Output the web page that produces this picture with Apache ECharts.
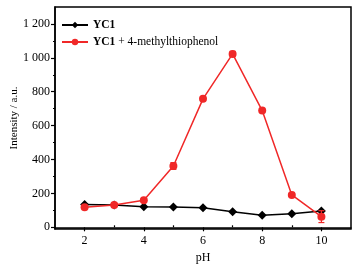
<!DOCTYPE html>
<html>
<head>
<meta charset="utf-8">
<title>Intensity vs pH</title>
<script src="https://cdn.jsdelivr.net/npm/echarts@6/dist/echarts.min.js"></script>
<style>
  html, body { margin: 0; padding: 0; background: #fff; }
  #chart { width: 362px; height: 267px; }
</style>
</head>
<body>
<div id="chart"></div>
<script>
// data
var phValues = [2, 3, 4, 5, 6, 7, 8, 9, 10];
var yc1 = [134, 132, 122, 120, 116, 92, 71, 80, 96];
var yc1Thio = [118, 132, 160, 362, 758, 1023, 689, 191, 63];
var yc1ThioErr = [6, 8, 8, 20, 10, 15, 8, 8, 35];
var xTicks = [2, 4, 6, 8, 10];
var xMinor = [3, 5, 7, 9];
var yTicks = [0, 200, 400, 600, 800, 1000, 1200];
var yMinor = [100, 300, 500, 700, 900, 1100];
var seriesNames = ['YC1', 'YC1 + 4-methylthiophenol'];

var font = 'Liberation Serif, Times New Roman, serif';

function pairs(ys) {
    return phValues.map(function (x, i) { return [x, ys[i]]; });
}
function fmt(v) {
    // "1 200" style thousands
    return v >= 1000 ? String(v).replace(/(\d)(\d{3})$/, '$1 $2') : String(v);
}

var errData = phValues.map(function (x, i) {
    return [x, yc1Thio[i] - yc1ThioErr[i], yc1Thio[i] + yc1ThioErr[i]];
});

var chart = echarts.init(document.getElementById('chart'));

var baseAxis = function (extra) {
    return Object.assign({
        type: 'value',
        splitLine: { show: false },
        axisLine: { show: true, lineStyle: { color: '#000', width: 1.5 } },
        axisTick: { inside: false, length: 4, lineStyle: { color: '#000', width: 1.2 } },
        axisLabel: { color: '#000', fontFamily: font, fontSize: 12, margin: 3 }
    }, extra);
};

var option = {
    animation: false,
    grid: {
        left: 55, right: 11, top: 7, bottom: 38,
        outerBoundsMode: 'none',
        show: true, borderColor: '#000', borderWidth: 1.5, backgroundColor: 'transparent'
    },
    legend: {
        data: seriesNames,
        orient: 'vertical',
        left: 56, top: 14,
        itemWidth: 26, itemHeight: 8, itemGap: 5,
        textStyle: {
            color: '#000', fontFamily: font, fontSize: 11.5,
            rich: { b: { fontWeight: 'bold', fontFamily: font, fontSize: 11.5, color: '#000' } }
        },
        formatter: function (name) {
            return name.replace('YC1', '{b|YC1}');
        }
    },
    xAxis: [
        baseAxis({
            min: 1, max: 11,
            name: 'pH', nameLocation: 'middle', nameGap: 23,
            nameTextStyle: { color: '#000', fontFamily: font, fontSize: 12 },
            axisTick: { inside: false, length: 4, customValues: xTicks, lineStyle: { color: '#000', width: 1.2 } },
            axisLabel: { color: '#000', fontFamily: font, fontSize: 12, margin: 6, customValues: xTicks }
        }),
        baseAxis({
            min: 1, max: 11,
            axisLine: { show: false },
            axisTick: { inside: false, length: 2, customValues: xMinor, lineStyle: { color: '#000', width: 1.2 } },
            axisLabel: { show: false }
        })
    ],
    yAxis: [
        baseAxis({
            min: -10, max: 1300,
            name: 'Intensity / a.u.', nameLocation: 'middle', nameGap: 35, nameMoveOverlap: false,
            nameTextStyle: { color: '#000', fontFamily: font, fontSize: 11 },
            axisTick: { inside: false, length: 4, customValues: yTicks, lineStyle: { color: '#000', width: 1.2 } },
            axisLabel: { color: '#000', fontFamily: font, fontSize: 12, margin: 5, customValues: yTicks, formatter: fmt }
        }),
        baseAxis({
            min: -10, max: 1300,
            position: 'left',
            axisLine: { show: false },
            axisTick: { inside: false, length: 2, customValues: yMinor, lineStyle: { color: '#000', width: 1.2 } },
            axisLabel: { show: false }
        })
    ],
    series: [
        {
            name: seriesNames[0],
            type: 'line',
            data: pairs(yc1),
            symbol: 'diamond', symbolSize: 9,
            itemStyle: { color: '#000' },
            lineStyle: { color: '#000', width: 1.5 },
            z: 3
        },
        {
            name: seriesNames[1],
            type: 'line',
            data: pairs(yc1Thio),
            symbol: 'circle', symbolSize: 8,
            itemStyle: { color: '#f02828' },
            lineStyle: { color: '#f02828', width: 1.5 },
            z: 4
        },
        {
            type: 'custom',
            data: errData,
            z: 5,
            renderItem: function (params, api) {
                var x = api.value(0);
                var lo = api.coord([x, api.value(1)]);
                var hi = api.coord([x, api.value(2)]);
                var w = 3;
                var st = { stroke: '#f02828', lineWidth: 1.2 };
                return {
                    type: 'group',
                    children: [
                        { type: 'line', shape: { x1: lo[0], y1: lo[1], x2: hi[0], y2: hi[1] }, style: st },
                        { type: 'line', shape: { x1: lo[0] - w, y1: lo[1], x2: lo[0] + w, y2: lo[1] }, style: st },
                        { type: 'line', shape: { x1: hi[0] - w, y1: hi[1], x2: hi[0] + w, y2: hi[1] }, style: st }
                    ]
                };
            }
        }
    ]
};

chart.setOption(option);
</script>
</body>
</html>
